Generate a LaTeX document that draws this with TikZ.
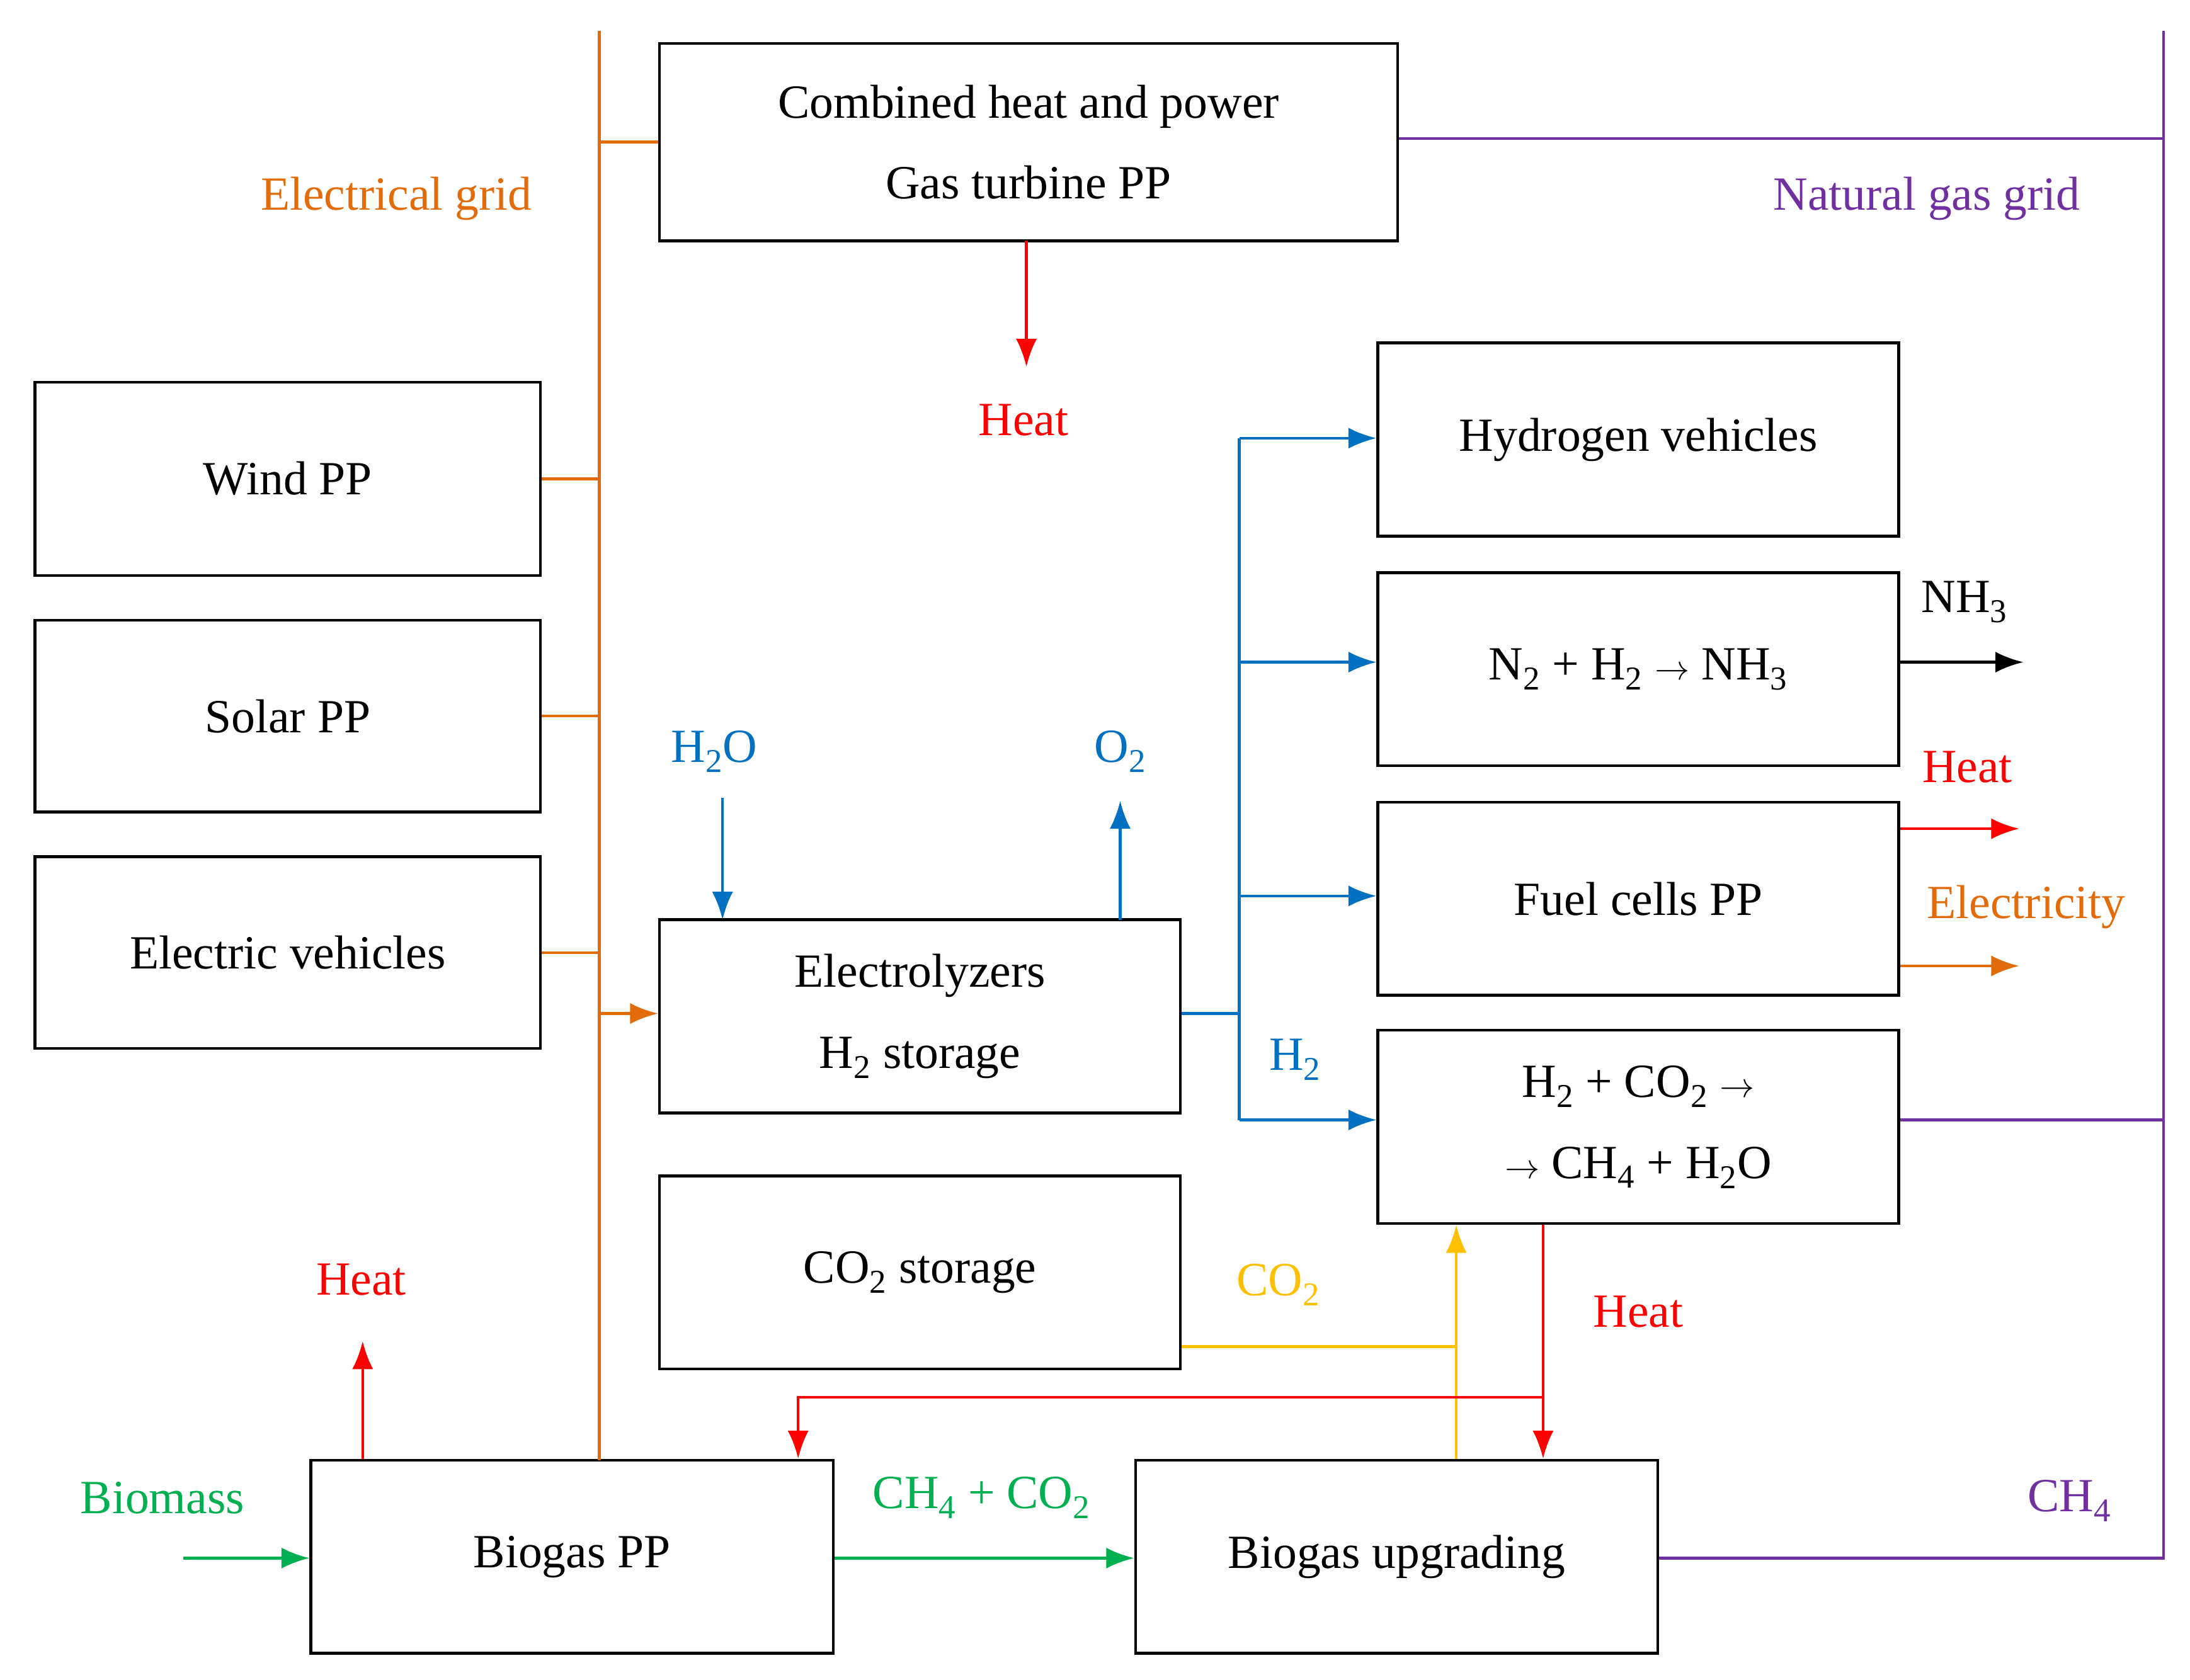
\documentclass[tikz,border=0pt]{standalone}
\usepackage{fontspec}
\setmainfont{Liberation Serif}
\usetikzlibrary{arrows.meta,calc}
\definecolor{eor}{HTML}{E36C0A}
\definecolor{pur}{HTML}{7030A0}
\definecolor{blu}{HTML}{0070C0}
\definecolor{grn}{HTML}{00B050}
\definecolor{yel}{HTML}{FFC000}
\definecolor{rd}{HTML}{FF0000}
\newcommand{\sbs}[1]{\textsubscript{#1}}
\begin{document}
\begin{tikzpicture}[x=1pt,y=-1pt,
  box/.style={draw,line width=2pt,align=center,font=\fontsize{34}{58}\selectfont,inner sep=0pt},
  lbl/.style={font=\fontsize{34}{38}\selectfont,inner sep=0pt},
  ln/.style={line width=2pt},
  arr/.style={line width=2pt,-{Latex[length=20pt,width=15pt]}}]
\useasboundingbox (0,0) rectangle (1564,1200);
\tikzset{bx/.style n args={4}{box,minimum width=#3-#1,minimum height=#4-#2}}
\node[bx={471}{31}{998}{172}] (chp) at (734.5,101.5) {Combined heat and power\\Gas turbine PP};
\node[bx={25}{273}{386}{411}] (wind) at (205.5,342) {Wind PP};
\node[bx={25}{443}{386}{580}] (solar) at (205.5,511.5) {Solar PP};
\node[bx={25}{612}{386}{749}] (ev) at (205.5,680.5) {Electric vehicles};
\node[bx={471}{657}{843}{795}] (ely) at (657,726) {Electrolyzers\\H\sbs{2} storage};
\node[bx={471}{840}{843}{978}] (co2s) at (657,909) {CO\sbs{2} storage};
\node[bx={984}{245}{1356}{383}] (hv) at (1170,314) {Hydrogen vehicles};
\node[bx={984}{409}{1356}{547}] (nh3) at (1170,478) {N\sbs{2} + H\sbs{2} $\rightarrow$ NH\sbs{3}};
\node[bx={984}{573}{1356}{711}] (fc) at (1170,642) {Fuel cells PP};
\node[bx={984}{736}{1356}{874}] (meth) at (1170,805) {H\sbs{2} + CO\sbs{2} $\rightarrow$\\$\rightarrow$ CH\sbs{4} + H\sbs{2}O};
\node[bx={222}{1043}{595}{1181}] (bpp) at (408.5,1112) {Biogas PP};
\node[bx={811}{1043}{1184}{1181}] (bup) at (997.5,1112) {Biogas upgrading};
% labels
\node[lbl,text=eor] (leg) at (283,142) {Electrical grid};
\node[lbl,text=pur] (lng) at (1376,142) {Natural gas grid};
\node[lbl,text=rd] (lh1) at (731,300) {Heat};
\node[lbl,text=blu] (lh2o) at (510,537) {H\sbs{2}O};
\node[lbl,text=blu] (lo2) at (800,537) {O\sbs{2}};
\node[lbl,text=blu] (lh2) at (925,757) {H\sbs{2}};
\node[lbl] (lnh3) at (1403,430) {NH\sbs{3}};
\node[lbl,text=rd] (lh3) at (1405,548) {Heat};
\node[lbl,text=eor] (lel) at (1447,648) {Electricity};
\node[lbl,text=yel] (lco2) at (913,918) {CO\sbs{2}};
\node[lbl,text=rd] (lh4) at (1170,937) {Heat};
\node[lbl,text=rd] (lh5) at (258,914) {Heat};
\node[lbl,text=grn] (lbio) at (116,1070) {Biomass};
\node[lbl,text=grn] (lcc) at (701,1070) {CH\sbs{4} + CO\sbs{2}};
\node[lbl,text=pur] (lch4) at (1478,1072) {CH\sbs{4}};
% coordinates
\coordinate (gt) at (428,22); \coordinate (gb) at (428,1043);
\coordinate (nt) at (1545,22); \coordinate (nb) at (1545,1113);
\coordinate (bt) at (885,313); \coordinate (bb) at (885,800);
\coordinate (h2os) at (516,570); \coordinate (o2e) at (800,572);
\coordinate (chpe) at (733,262); \coordinate (nh3e) at (1445,473);
\coordinate (he) at (1442,592); \coordinate (ee) at (1442,690);
\coordinate (bioS) at (131,1113); \coordinate (hbe) at (259,958);
\coordinate (yj) at (1040,962); \coordinate (rj) at (1102,998); \coordinate (rl) at (570,998);
% electrical grid
\draw[ln,eor] (gt) -- (gb);
\draw[ln,eor] (gt|-chp.west) -- (chp.west);
\draw[ln,eor] (wind.east) -- (gt|-wind.east);
\draw[ln,eor] (solar.east) -- (gt|-solar.east);
\draw[ln,eor] (ev.east) -- (gt|-ev.east);
\draw[arr,eor] (428,724) -- (ely.west|-0,724);
% gas grid
\draw[ln,pur] (nt) -- (nb) -- (bup.east|-nb);
\draw[ln,pur] (chp.east|-0,99) -- (nt|-0,99);
\draw[ln,pur] (meth.east|-0,800) -- (nt|-0,800);
% heat CHP
\draw[arr,rd] (733,172) -- (chpe);
% water/oxygen
\draw[arr,blu] (h2os) -- (516,657);
\draw[arr,blu] (800,657) -- (o2e);
% hydrogen bus
\draw[ln,blu] (ely.east|-0,724) -- (885,724);
\draw[ln,blu] (bt) -- (bb);
\draw[arr,blu] (bt) -- (hv.west|-bt);
\draw[arr,blu] (885,473) -- (nh3.west|-0,473);
\draw[arr,blu] (885,640) -- (fc.west|-0,640);
\draw[arr,blu] (bb) -- (meth.west|-bb);
% outputs
\draw[arr] (nh3.east|-nh3e) -- (nh3e);
\draw[arr,rd] (fc.east|-he) -- (he);
\draw[arr,eor] (fc.east|-ee) -- (ee);
% CO2
\draw[ln,yel] (co2s.east|-yj) -- (yj);
\draw[arr,yel] (bup.north-|yj) -- (meth.south-|yj);
% heat from methanation
\draw[arr,rd] (meth.south-|rj) -- (bup.north-|rj);
\draw[arr,rd] (rj) -- (rl) -- (bpp.north-|rl);
% biogas
\draw[arr,rd] (bpp.north-|hbe) -- (hbe);
\draw[arr,grn] (bioS) -- (bpp.west|-bioS);
\draw[arr,grn] (bpp.east|-0,1113) -- (bup.west|-0,1113);
\end{tikzpicture}
\end{document}
